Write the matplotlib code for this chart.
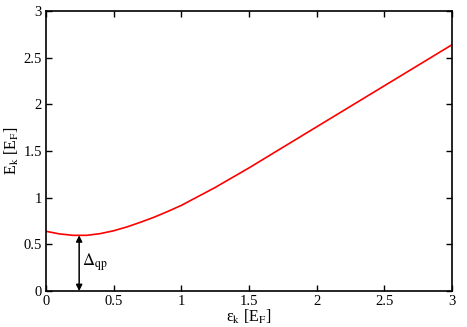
import matplotlib
matplotlib.use("Agg")
import matplotlib.pyplot as plt

plt.rcParams['font.family'] = ['Liberation Serif', 'DejaVu Serif']
plt.rcParams['mathtext.fontset'] = 'stix'

# values
eps = [0.0, 0.1, 0.2, 0.3, 0.4, 0.5, 0.6, 0.7, 0.8, 0.9, 1.0,
       1.25, 1.5, 1.75, 2.0, 2.25, 2.5, 2.75, 3.0]
Ek = [0.640, 0.612, 0.597, 0.597, 0.615, 0.646, 0.688, 0.738, 0.792, 0.853, 0.918,
      1.11, 1.32, 1.54, 1.76, 1.98, 2.20, 2.42, 2.64]

ticks = [0, 0.5, 1, 1.5, 2, 2.5, 3]
tick_labels = ["0", "0.5", "1", "1.5", "2", "2.5", "3"]

eps_min = 0.245
gap = 0.597

fig = plt.figure(figsize=(4.67, 3.27), dpi=100)
ax = fig.add_axes([0.0985, 0.110, 0.8695, 0.856])

ax.plot(eps, Ek, color='red', lw=1.2)
ax.annotate("", xy=(eps_min, gap), xytext=(eps_min, 0),
            arrowprops=dict(arrowstyle='<|-|>', color='black', lw=1.1,
                            mutation_scale=9, shrinkA=0, shrinkB=0))
ax.text(eps_min + 0.02, 0.31, r"$\Delta_{\rm qp}$", fontsize=12, va='center')

ax.set_xlim(0, 3)
ax.set_ylim(0, 3)
ax.set_xticks(ticks)
ax.set_xticklabels(tick_labels)
ax.set_yticks(ticks)
ax.set_yticklabels(tick_labels)
ax.tick_params(direction='in', top=True, right=True, length=4, width=1,
               labelsize=10.5, pad=3)
for s in ax.spines.values():
    s.set_linewidth(1.2)

ax.set_xlabel("ε$_{\\rm k}$ [E$_{\\rm F}$]", fontsize=11.5, labelpad=0)
ax.set_ylabel(r"E$_{\rm k}$ [E$_{\rm F}$]", fontsize=11.5, labelpad=2)

fig.savefig("out.png", dpi=100)
